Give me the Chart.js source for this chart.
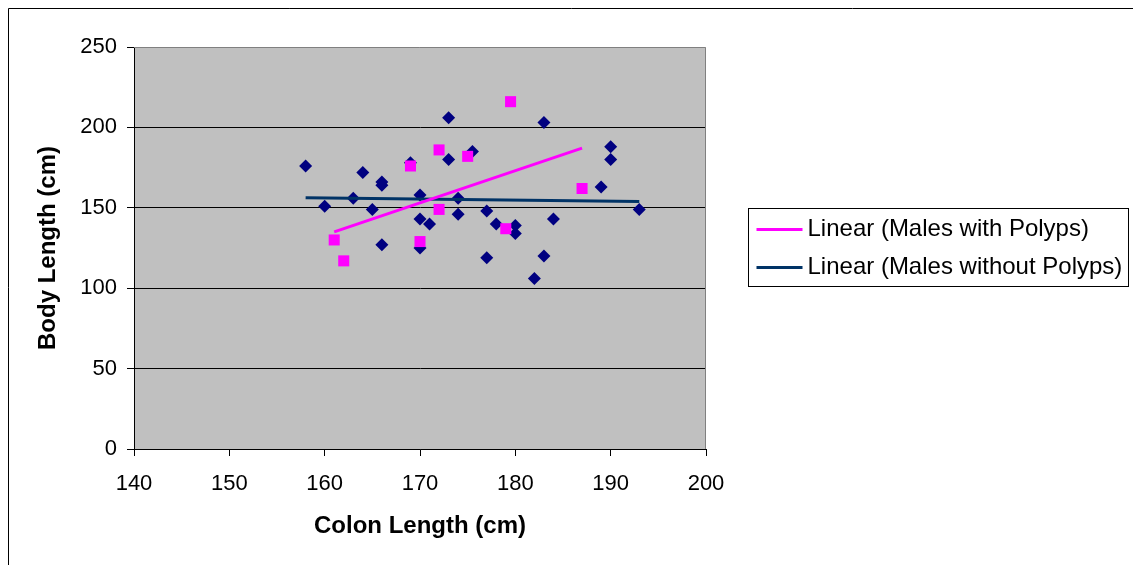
<!DOCTYPE html>
<html>
<head>
<meta charset="utf-8">
<script src="https://cdn.jsdelivr.net/npm/chart.js@4/dist/chart.umd.min.js"></script>
<style>
  html, body { margin: 0; padding: 0; background: #fff; }
  #wrap { width: 1133px; height: 565px; }
</style>
</head>
<body>
<div id="wrap"><canvas id="myChart"></canvas></div>
<script>
// colon length (x) vs body length (y)
const withPolypsX = [161, 162, 169, 170, 172, 172, 175, 179.5, 179, 187];
const withPolypsY = [130, 117, 176, 129, 186, 149, 182, 216, 137, 162];

const withoutPolypsX = [158, 160, 163, 164, 165, 166, 166, 166, 169, 170, 170, 170, 171, 173, 173, 174, 174,
  175.5, 177, 177, 178, 180, 180, 182, 183, 183, 184, 189, 190, 190, 193];
const withoutPolypsY = [176, 151, 156, 172, 149, 166, 164, 127, 178, 158, 143, 125, 140, 206, 180, 156, 146,
  185, 148, 119, 140, 139, 134, 106, 203, 120, 143, 163, 188, 180, 149];

const xTicks = [140, 150, 160, 170, 180, 190, 200];
const yTicks = [0, 50, 100, 150, 200, 250];

const FONT = "'Liberation Sans', Arial, sans-serif";

function toPoints(xs, ys) {
  return xs.map((x, i) => ({ x: x, y: ys[i] }));
}

// least squares trend line, like the spreadsheet "Linear" trendline
function trend(xs, ys) {
  const n = xs.length;
  const mx = xs.reduce((a, b) => a + b, 0) / n;
  const my = ys.reduce((a, b) => a + b, 0) / n;
  let sxy = 0, sxx = 0;
  for (let i = 0; i < n; i++) {
    sxy += (xs[i] - mx) * (ys[i] - my);
    sxx += (xs[i] - mx) * (xs[i] - mx);
  }
  const m = sxy / sxx;
  const lo = Math.min(...xs), hi = Math.max(...xs);
  return [{ x: lo, y: my + m * (lo - mx) }, { x: hi, y: my + m * (hi - mx) }];
}

const plotBg = {
  id: 'plotBg',
  beforeDraw(chart) {
    const { ctx, chartArea: a } = chart;
    ctx.save();
    ctx.fillStyle = '#C0C0C0';
    ctx.fillRect(a.left, a.top, a.right - a.left, a.bottom - a.top);
    ctx.restore();
  },
  afterDraw(chart) {
    const { ctx, chartArea: a } = chart;
    ctx.save();
    // outer frame (only top and left show)
    ctx.strokeStyle = '#000';
    ctx.lineWidth = 1;
    ctx.beginPath();
    ctx.moveTo(8.5, 600);
    ctx.lineTo(8.5, 8.5);
    ctx.lineTo(1200, 8.5);
    ctx.stroke();
    // plot area frame top / right
    ctx.strokeStyle = '#808080';
    ctx.beginPath();
    ctx.moveTo(a.left, a.top + 0.5);
    ctx.lineTo(a.right - 0.5, a.top + 0.5);
    ctx.lineTo(a.right - 0.5, a.bottom);
    ctx.stroke();

    // legend with trend lines only
    const items = chart.data.datasets.filter(d => d.type === 'line');
    const bx = 748.5, by = 208.5, bw = 380, bh = 78;
    ctx.strokeStyle = '#000';
    ctx.strokeRect(bx, by, bw, bh);
    ctx.font = '24px ' + FONT;
    ctx.textBaseline = 'middle';
    ctx.fillStyle = '#000';
    items.forEach((d, i) => {
      const y = by + 21 + i * 38;
      ctx.strokeStyle = d.borderColor;
      ctx.lineWidth = 3;
      ctx.beginPath();
      ctx.moveTo(bx + 8, y);
      ctx.lineTo(bx + 54, y);
      ctx.stroke();
      ctx.fillText(d.label, bx + 59, y);
    });
    ctx.restore();
  }
};

new Chart(document.getElementById('myChart'), {
  type: 'scatter',
  data: {
    datasets: [
      {
        type: 'line',
        label: 'Linear (Males with Polyps)',
        data: trend(withPolypsX, withPolypsY),
        borderColor: '#FF00FF',
        borderWidth: 3,
        pointRadius: 0,
        order: 0
      },
      {
        type: 'line',
        label: 'Linear (Males without Polyps)',
        data: trend(withoutPolypsX, withoutPolypsY),
        borderColor: '#003366',
        borderWidth: 3,
        pointRadius: 0,
        order: 1
      },
      {
        label: 'Males with Polyps',
        data: toPoints(withPolypsX, withPolypsY),
        pointStyle: 'rect',
        pointRadius: 7.8,
        backgroundColor: '#FF00FF',
        borderColor: '#FF00FF',
        borderWidth: 0,
        order: 2
      },
      {
        label: 'Males without Polyps',
        data: toPoints(withoutPolypsX, withoutPolypsY),
        pointStyle: 'rectRot',
        pointRadius: 6.5,
        backgroundColor: '#000080',
        borderColor: '#000080',
        borderWidth: 0,
        order: 3
      }
    ]
  },
  options: {
    responsive: true,
    maintainAspectRatio: false,
    animation: false,
    layout: { padding: { left: 0, top: 47, right: 427, bottom: 0 } },
    plugins: {
      legend: { display: false },
      tooltip: { enabled: false }
    },
    scales: {
      x: {
        type: 'linear',
        min: 140,
        max: 200,
        afterBuildTicks: s => { s.ticks = xTicks.map(v => ({ value: v })); },
        afterFit: s => { s.height = 116; },
        ticks: { color: '#000', font: { family: FONT, size: 22 }, padding: 15 },
        grid: { drawOnChartArea: false, tickLength: 7, tickColor: '#000' },
        border: { color: '#000', width: 1 },
        title: {
          display: true,
          text: 'Colon Length (cm)',
          color: '#000',
          font: { family: FONT, size: 24, weight: 'bold' },
          padding: { bottom: 24 }
        }
      },
      y: {
        type: 'linear',
        min: 0,
        max: 250,
        afterBuildTicks: s => { s.ticks = yTicks.map(v => ({ value: v })); },
        afterFit: s => { s.width = 134; },
        ticks: { color: '#000', font: { family: FONT, size: 22 }, padding: 10 },
        grid: {
          color: c => (c.tick && c.tick.value === 250) ? 'rgba(0,0,0,0)' : '#000',
          tickLength: 7,
          tickColor: '#000'
        },
        border: { color: '#000', width: 1 },
        title: {
          display: true,
          text: 'Body Length (cm)',
          color: '#000',
          font: { family: FONT, size: 24, weight: 'bold' },
          padding: { top: 34 }
        }
      }
    }
  },
  plugins: [plotBg]
});
</script>
</body>
</html>
